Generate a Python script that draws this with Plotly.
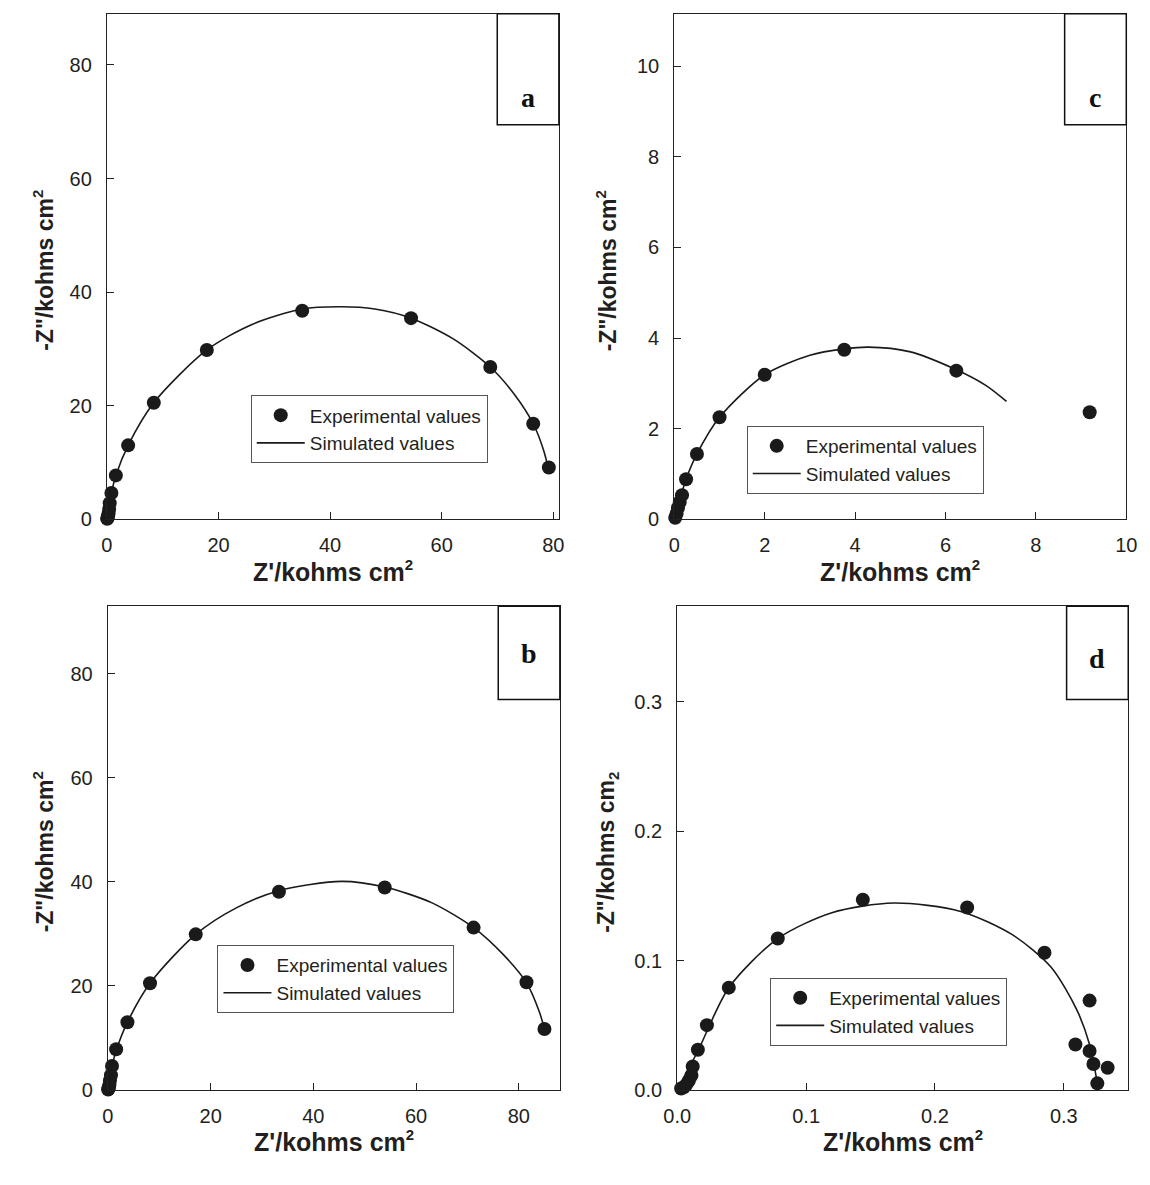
import plotly.graph_objects as go

# ---------------- data (kohm cm^2) ----------------
# panel a
a_exp_x = [0.05, 0.1, 0.2, 0.3, 0.4, 0.5, 0.8, 1.6, 3.8, 8.4, 17.9, 35.0, 54.5, 68.7, 76.4, 79.2]
a_exp_y = [0.05, 0.2, 0.5, 1.0, 1.8, 2.8, 4.6, 7.7, 13.0, 20.5, 29.8, 36.7, 35.4, 26.8, 16.8, 9.1]
a_sim_x = [0, 0.8, 1.6, 3.8, 8.4, 17.9, 26, 35, 42, 48, 54.5, 62, 68.7, 73, 76.4, 78.3, 79.3]
a_sim_y = [0, 4.6, 7.7, 13.0, 20.5, 29.8, 34.3, 37.0, 37.4, 37.0, 35.4, 31.8, 26.8, 22.0, 16.8, 12.0, 8.0]

# panel b
b_exp_x = [0.05, 0.1, 0.2, 0.3, 0.4, 0.6, 0.8, 1.6, 3.8, 8.2, 17.1, 33.3, 53.9, 71.2, 81.5, 85.0]
b_exp_y = [0.05, 0.2, 0.5, 1.0, 1.8, 2.8, 4.6, 7.8, 13.0, 20.5, 29.9, 38.1, 38.9, 31.2, 20.7, 11.7]
b_sim_x = [0, 0.8, 1.7, 3.8, 8.2, 17.1, 25, 33.3, 45.5, 53.9, 63, 71.2, 77, 81.5, 84, 85.0]
b_sim_y = [0, 4.6, 7.8, 13.0, 20.5, 29.9, 35.0, 38.3, 40.1, 39.0, 36.0, 31.2, 26.0, 20.6, 15.0, 11.7]

# panel c
c_exp_x = [0.02, 0.05, 0.08, 0.12, 0.17, 0.26, 0.5, 1.0, 2.0, 3.76, 6.24, 9.19]
c_exp_y = [0.03, 0.12, 0.25, 0.38, 0.53, 0.88, 1.44, 2.25, 3.19, 3.74, 3.28, 2.36]
c_sim_x = [0, 0.26, 0.5, 1.0, 2.0, 3.0, 3.76, 4.3, 5.2, 6.24, 6.9, 7.35]
c_sim_y = [0, 0.88, 1.44, 2.25, 3.19, 3.62, 3.76, 3.80, 3.70, 3.30, 2.95, 2.60]

# panel d
d_exp_x = [0.003, 0.005, 0.007, 0.009, 0.011, 0.012, 0.016, 0.023, 0.040, 0.078, 0.144,
           0.225, 0.285, 0.320, 0.309, 0.320, 0.323, 0.334, 0.326]
d_exp_y = [0.001, 0.002, 0.004, 0.007, 0.011, 0.018, 0.031, 0.050, 0.079, 0.117, 0.147,
           0.141, 0.106, 0.069, 0.035, 0.030, 0.020, 0.017, 0.005]
d_sim_x = [0, 0.016, 0.040, 0.078, 0.12, 0.168, 0.22, 0.26, 0.29, 0.31, 0.32, 0.326]
d_sim_y = [0, 0.030, 0.079, 0.117, 0.137, 0.1445, 0.138, 0.120, 0.095, 0.062, 0.035, 0.005]

# axis ranges and ticks per panel
x_ranges = {"a": [0, 81], "b": [0, 88], "c": [0, 10], "d": [0, 0.35]}
y_ranges = {"a": [0, 89], "b": [0, 93], "c": [0, 11.16], "d": [0, 0.374]}
x_ticks = {"a": [0, 20, 40, 60, 80], "b": [0, 20, 40, 60, 80],
           "c": [0, 2, 4, 6, 8, 10], "d": [0.0, 0.1, 0.2, 0.3]}
y_ticks = {"a": [0, 20, 40, 60, 80], "b": [0, 20, 40, 60, 80],
           "c": [0, 2, 4, 6, 8, 10], "d": [0.0, 0.1, 0.2, 0.3]}

exp_label = "Experimental values"
sim_label = "Simulated values"
SUP2 = "<sup><span style='font-size:15px'>2</span></sup>"
SUB2 = "<sub><span style='font-size:15px'>2</span></sub>"
x_title = "Z'/kohms cm" + SUP2
y_titles = {"a": '-Z"/kohms cm' + SUP2, "b": '-Z"/kohms cm' + SUP2,
            "c": '-Z"/kohms cm' + SUP2, "d": '-Z"/kohms cm' + SUB2}

# ---------------- layout geometry (pixels) ----------------
W, H = 1150, 1185
boxes = {  # left, right, top, bottom of each plot area
    "a": (95, 557, 14, 524),
    "c": (675, 1137, 14, 524),
    "b": (96, 558, 612, 1100),
    "d": (678, 1139, 612, 1100),
}
legend_pos = {"a": (242, 399), "c": (749, 430), "b": (208, 954), "d": (773, 987)}
tag_box = {"a": (494, 557, 14, 126, 98), "c": (1074, 1137, 14, 126, 98),
           "b": (495, 558, 612, 706, 660), "d": (1076, 1139, 612, 706, 665)}
ytitle_x = {"a": 30, "b": 30, "c": 606, "d": 606}

TXT = "#231f20"
FONT = "Liberation Sans, Arial, sans-serif"

def px(x):
    return x / W

def py(y):
    return 1 - y / H

panels = {
    "a": (a_exp_x, a_exp_y, a_sim_x, a_sim_y),
    "b": (b_exp_x, b_exp_y, b_sim_x, b_sim_y),
    "c": (c_exp_x, c_exp_y, c_sim_x, c_sim_y),
    "d": (d_exp_x, d_exp_y, d_sim_x, d_sim_y),
}
order = ["a", "c", "b", "d"]

fig = go.Figure()
layout = dict(
    width=W, height=H, margin=dict(l=0, r=0, t=0, b=0),
    paper_bgcolor="white", plot_bgcolor="white",
    font=dict(family=FONT, color=TXT, size=20),
    annotations=[], shapes=[],
)

for i, key in enumerate(order, start=1):
    ex, ey, sx, sy = panels[key]
    xa = "x" if i == 1 else f"x{i}"
    ya = "y" if i == 1 else f"y{i}"
    leg = "legend" if i == 1 else f"legend{i}"
    fig.add_trace(go.Scatter(
        x=ex, y=ey, mode="markers", name=exp_label, xaxis=xa, yaxis=ya, legend=leg,
        marker=dict(color="#1a1a1a", size=14, line=dict(width=0)), cliponaxis=False))
    fig.add_trace(go.Scatter(
        x=sx, y=sy, mode="lines", name=sim_label, xaxis=xa, yaxis=ya, legend=leg,
        line=dict(color="#1a1a1a", width=1.6, shape="spline", smoothing=0.8)))

    l, r, t, b = boxes[key]
    axis_common = dict(showgrid=False, zeroline=False, showline=True, linecolor="#222",
                       linewidth=1.3, mirror=True, ticks="inside", ticklen=7,
                       tickcolor="#222", tickwidth=1, tickfont=dict(size=20, color=TXT))
    layout[f"xaxis{'' if i == 1 else i}"] = dict(
        domain=[px(l), px(r)], anchor=ya, range=x_ranges[key], tickvals=x_ticks[key],
        tickformat=".1f" if key == "d" else "d", ticklabelstandoff=8, **axis_common)
    layout[f"yaxis{'' if i == 1 else i}"] = dict(
        domain=[py(b), py(t)], anchor=xa, range=y_ranges[key], tickvals=y_ticks[key],
        tickformat=".1f" if key == "d" else "d", ticklabelstandoff=10, **axis_common)

    lx, ly = legend_pos[key]
    layout[leg] = dict(
        x=px(lx), y=py(ly), xanchor="left", yanchor="top", bgcolor="white",
        bordercolor="#555", borderwidth=1, itemwidth=48, tracegroupgap=0,
        font=dict(size=19, color=TXT, family=FONT), itemclick=False)

    # axis titles
    layout["annotations"].append(dict(
        text=x_title, x=px((l + r) / 2), y=py(b + 52), xref="paper", yref="paper",
        showarrow=False, font=dict(size=25, family=FONT, color=TXT, weight="bold"),
        xanchor="center", yanchor="middle"))
    layout["annotations"].append(dict(
        text=y_titles[key], x=px(ytitle_x[key]), y=py((t + b) / 2 + 4), xref="paper",
        yref="paper", showarrow=False, textangle=-90,
        font=dict(size=23, family=FONT, color=TXT, weight="bold"),
        xanchor="center", yanchor="middle"))

    # panel tag box
    tl, tr, tt, tb, tyc = tag_box[key]
    layout["shapes"].append(dict(
        type="rect", xref="paper", yref="paper", x0=px(tl), x1=px(tr), y0=py(tb), y1=py(tt),
        line=dict(color="#111", width=1.5), fillcolor="white"))
    layout["annotations"].append(dict(
        text=key, x=px((tl + tr) / 2), y=py(tyc), xref="paper", yref="paper",
        showarrow=False, xanchor="center", yanchor="middle",
        font=dict(size=28, family="Liberation Serif, Times New Roman, serif",
                  color="#111", weight="bold")))

fig.update_layout(**layout)
fig.write_html("out.html")
